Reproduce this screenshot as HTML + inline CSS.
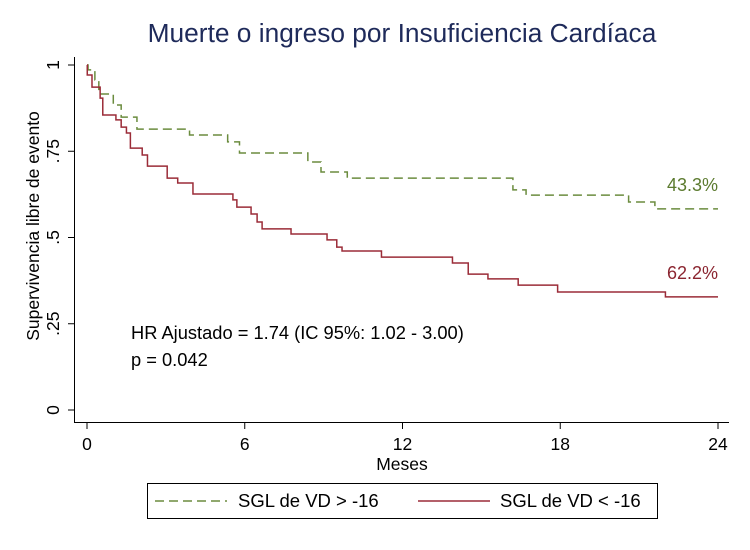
<!DOCTYPE html>
<html><head><meta charset="utf-8"><style>
body{margin:0;background:#fff;font-family:"Liberation Sans",sans-serif}
svg text{font-family:"Liberation Sans",sans-serif}
</style></head><body>
<svg width="750" height="545" xmlns="http://www.w3.org/2000/svg">
<rect width="750" height="545" fill="#fff"/>
<text x="402" y="42" text-anchor="middle" font-size="26.3" fill="#1e2a5a">Muerte o ingreso por Insuficiencia Cardíaca</text>
<g id="axes"></g>
<g id="series"></g>
<text x="131" y="339" font-size="18.3" fill="#000">HR Ajustado = 1.74 (IC 95%: 1.02 - 3.00)</text>
<text x="131" y="366" font-size="18.3" fill="#000">p = 0.042</text>
<text x="718" y="191" text-anchor="end" font-size="18" fill="#5b7a2e">43.3%</text>
<text x="718" y="279" text-anchor="end" font-size="18" fill="#8b2530">62.2%</text>
<text x="402" y="470" text-anchor="middle" font-size="17.5">Meses</text>
<text transform="translate(39,226) rotate(-90)" text-anchor="middle" font-size="17.5">Supervivencia libre de evento</text>
<g>
<rect x="147.5" y="483.5" width="510" height="35" fill="#fff" stroke="#000" stroke-width="1"/>
<line x1="155" y1="501" x2="227" y2="501" stroke="#6b8c3e" stroke-width="1.5" stroke-dasharray="9,5"/>
<text x="238" y="507" font-size="18.5">SGL de VD &gt; -16</text>
<line x1="418" y1="501" x2="490" y2="501" stroke="#9b2c38" stroke-width="1.5"/>
<text x="500" y="507" font-size="18.5">SGL de VD &lt; -16</text>
</g>
</svg>
<script>
const xTicks=[0,6,12,18,24];
const yTicks=[0,0.25,0.5,0.75,1];
const yTickLabels=["0",".25",".5",".75","1"];
const greenTimes=[0,0.04,0.3,0.45,1.0,1.3,1.9,3.9,5.35,5.8,8.4,8.9,9.9,16.2,16.7,20.6,21.6];
const greenSurv=[1,0.986,0.957,0.916,0.884,0.849,0.814,0.797,0.777,0.745,0.719,0.690,0.672,0.638,0.623,0.603,0.583];
const redTimes=[0,0.01,0.19,0.5,0.6,1.1,1.3,1.5,1.65,2.1,2.3,3.05,3.45,4.03,5.55,5.7,6.24,6.47,6.66,7.76,9.13,9.5,9.7,11.2,13.9,14.5,15.25,16.4,17.9,22.0];
const redSurv=[1,0.971,0.936,0.904,0.855,0.841,0.820,0.803,0.759,0.739,0.707,0.672,0.658,0.626,0.609,0.588,0.568,0.545,0.525,0.510,0.493,0.472,0.461,0.443,0.426,0.394,0.380,0.362,0.342,0.328];
const xMax=24;
const X=t=>87+t*(718-87)/24;
const Y=v=>410-v*345;
const NS="http://www.w3.org/2000/svg";
function mk(tag,attrs,parent){const e=document.createElementNS(NS,tag);for(const k in attrs)e.setAttribute(k,attrs[k]);parent.appendChild(e);return e;}
const axes=document.getElementById('axes');
let el=mk('line',{x1:74.5,y1:57,x2:74.5,y2:422.5,stroke:'#000','stroke-width':1},axes);


el=mk('line',{x1:74,y1:422.5,x2:729,y2:422.5,stroke:'#000','stroke-width':1},axes);


yTicks.forEach((v,i)=>{
 const t=mk('line',{x1:68,y1:Y(v),x2:74.5,y2:Y(v),stroke:'#000'},axes);
 
 
 const l=mk('text',{transform:`translate(59,${Y(v)}) rotate(-90)`,'text-anchor':'middle','font-size':17.5},axes);
 l.textContent=yTickLabels[i];
 
 
});
xTicks.forEach(v=>{
 const t=mk('line',{x1:X(v),y1:422.5,x2:X(v),y2:429,stroke:'#000'},axes);
 
 
 const l=mk('text',{x:X(v),y:450,'text-anchor':'middle','font-size':17.5},axes);
 l.textContent=String(v);
 
 
});
function stepPath(ts,vs){
 let d=`M${X(ts[0])},${Y(vs[0])}`;
 for(let i=1;i<ts.length;i++){d+=` H${X(ts[i])} V${Y(vs[i])}`;}
 d+=` H${X(xMax)}`;return d;
}
const series=document.getElementById('series');
el=mk('path',{d:stepPath(greenTimes,greenSurv),fill:'none',stroke:'#6b8c3e','stroke-width':1.5,'stroke-dasharray':'9,5'},series);


el=mk('path',{d:stepPath(redTimes,redSurv),fill:'none',stroke:'#9b2c38','stroke-width':1.5},series);


</script>
</body></html>
